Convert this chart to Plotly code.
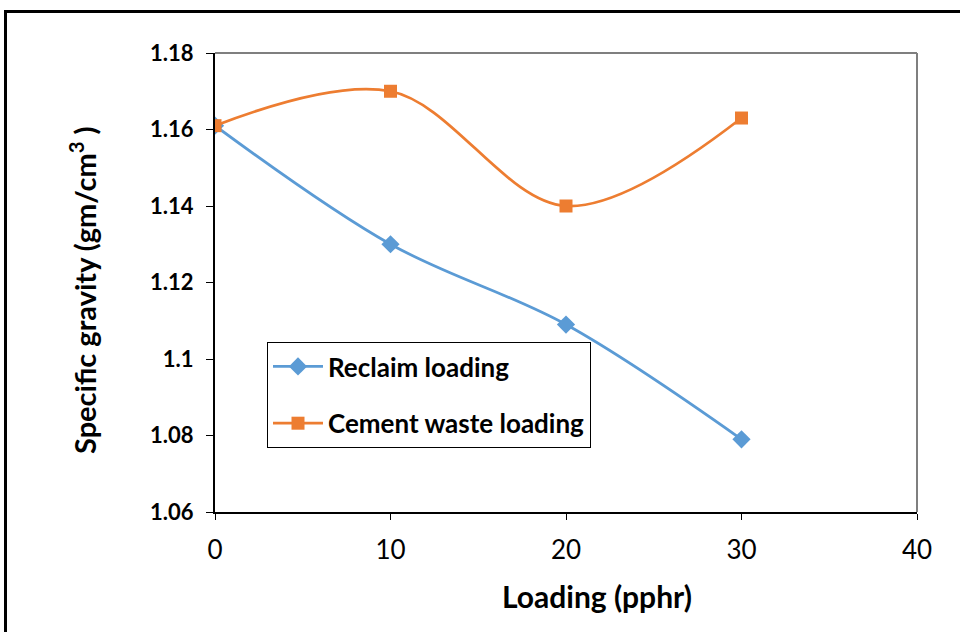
import plotly.graph_objects as go

loading = [0, 10, 20, 30]
reclaim = [1.161, 1.130, 1.109, 1.079]
cement = [1.161, 1.170, 1.140, 1.163]
x_ticks = [0, 10, 20, 30, 40]
y_ticks = [1.06, 1.08, 1.10, 1.12, 1.14, 1.16, 1.18]
y_labels = ["1.06", "1.08", "1.1", "1.12", "1.14", "1.16", "1.18"]

L, R, T, B = 215, 917, 53, 512
W, H = 960, 632

def px(x):
    return (x - L) / (R - L)

def py(y):
    return (B - y) / (B - T)

fig = go.Figure()
fig.add_trace(go.Scatter(
    x=loading, y=reclaim, name="Reclaim loading", mode="lines+markers",
    legendgroup="a",
    line=dict(color="#5B9BD5", width=2.75, shape="spline", smoothing=1.0),
    marker=dict(symbol="diamond", size=14, color="#5B9BD5"),
))
fig.add_trace(go.Scatter(
    x=loading, y=cement, name="Cement waste loading", mode="lines+markers",
    legendgroup="b",
    line=dict(color="#ED7D31", width=2.75, shape="spline", smoothing=1.0),
    marker=dict(symbol="square", size=13, color="#ED7D31"),
))

fig.update_layout(
    width=W, height=H,
    margin=dict(l=L, r=W - R, t=T, b=H - B, autoexpand=False),
    paper_bgcolor="white", plot_bgcolor="white",
    showlegend=True,
    legend=dict(
        x=px(267), y=py(342), xanchor="left", yanchor="top",
        bgcolor="white", bordercolor="black", borderwidth=1,
        font=dict(family="Lato", size=26, color="black", weight="bold"),
        traceorder="grouped", tracegroupgap=20, itemwidth=50,
    ),
    xaxis=dict(
        range=[0, 40], tickvals=x_ticks, ticktext=[str(v) for v in x_ticks],
        showgrid=False, zeroline=False, showline=True, linecolor="black", linewidth=2,
        ticks="outside", ticklen=6, tickwidth=1, tickcolor="black",
        tickfont=dict(family="Lato", size=26, color="black"),
        ticklabelstandoff=8,
    ),
    yaxis=dict(
        range=[1.06, 1.18], tickvals=y_ticks, ticktext=y_labels,
        showgrid=False, zeroline=False, showline=True, linecolor="black", linewidth=2,
        ticks="outside", ticklen=7, tickwidth=1, tickcolor="black",
        tickfont=dict(family="Lato", size=22, color="black", weight="bold"),
        ticklabelstandoff=8,
    ),
    shapes=[
        dict(type="line", xref="paper", yref="paper", x0=0, x1=1, y0=1, y1=1,
             line=dict(color="#7f7f7f", width=2)),
        dict(type="line", xref="paper", yref="paper", x0=1, x1=1, y0=0, y1=1,
             line=dict(color="#7f7f7f", width=2)),
        dict(type="rect", xref="paper", yref="paper",
             x0=px(5.5), x1=px(975), y0=py(650), y1=py(11.5),
             line=dict(color="black", width=3), layer="above"),
    ],
    annotations=[
        dict(text="Loading (pphr)", xref="paper", yref="paper",
             x=px(597), y=py(596), xanchor="center", yanchor="middle", showarrow=False,
             font=dict(family="Lato", size=30, color="black", weight="bold")),
        dict(text="Specific gravity (gm/cm<sup>3</sup> )", xref="paper", yref="paper",
             x=px(83), y=py(290), xanchor="center", yanchor="middle", showarrow=False,
             textangle=-90,
             font=dict(family="Lato", size=29, color="black", weight="bold")),
    ],
)

fig.write_html("out.html")
